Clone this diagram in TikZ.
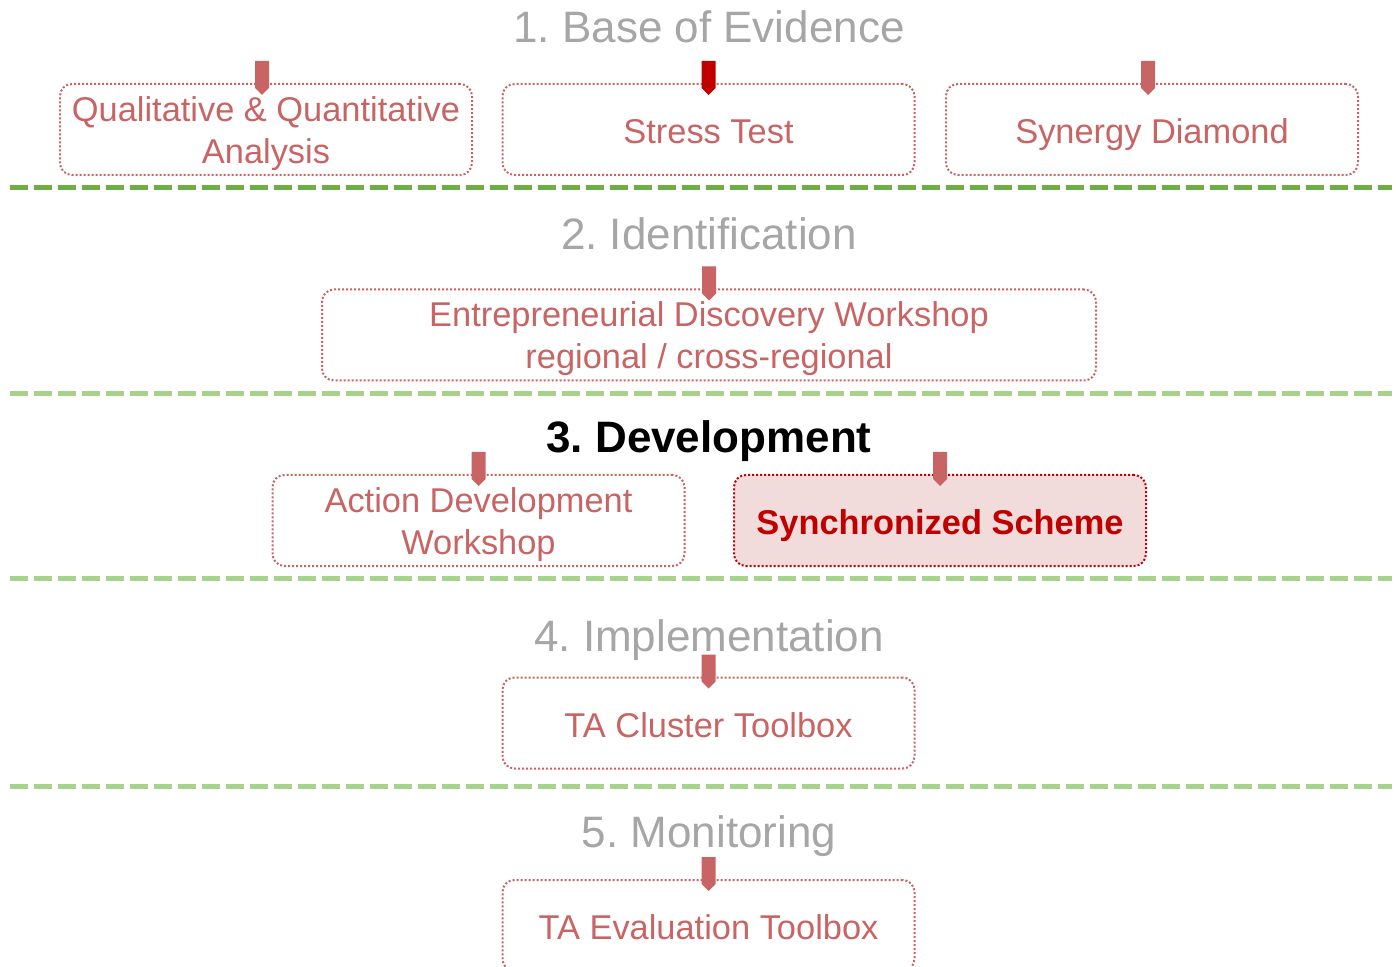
\documentclass[tikz,border=0pt]{standalone}
\usepackage{fontspec}
\setmainfont{Liberation Sans}
\usetikzlibrary{positioning}
\definecolor{red1}{HTML}{C00000}
\definecolor{red4}{HTML}{C86464}
\definecolor{red9}{HTML}{F2DCDB}
\definecolor{green3}{HTML}{70AD47}
\definecolor{green6}{HTML}{A9D18E}
\definecolor{gray6}{HTML}{A6A6A6}
\frenchspacing

\tikzset{
  stage/.style={anchor=base, text=gray6, font=\fontsize{22}{26}\selectfont},
  toolbox/.style={draw=red4, text=red4, line width=1pt, dash pattern=on 1pt off 1pt,
    rounded corners=6pt, minimum width=206pt, minimum height=45.5pt, inner sep=0pt,
    align=center, font=\fontsize{17.2}{21}\selectfont, text height=16pt, text depth=2pt},
  twolines/.style={text height=34pt, text depth=0pt},
  phasesep/.style={line width=2.5pt, dash pattern=on 9pt off 3pt},
  pics/inmark/.style={code={\fill[#1] (-7,-22) -- (7,-22) -- (7,5) -- (0,12) -- (-7,5) -- cycle;}},
}

\begin{document}
\begin{tikzpicture}[x=0.5pt, y=-0.5pt]
\path[use as bounding box, clip] (0,0) rectangle (1396,967);

% 1. base of evidence
\node[stage] (s1) at (709,43) {1. Base of Evidence};
\node[toolbox, twolines] (qa) at (266,129.5) {Qualitative \& Quantitative\\Analysis};
\node[toolbox] (st) at (708.5,129.5) {Stress Test};
\node[toolbox] (sd) at (1152,129.5) {Synergy Diamond};
\pic at ([xshift=-2pt]qa.north) {inmark=red4};
\pic at (st.north) {inmark=red1};
\pic at ([xshift=-2pt]sd.north) {inmark=red4};
\draw[phasesep, green3] (10,188) -- (1392,188);

% 2. identification
\node[stage] (s2) at (709,250) {2. Identification};
\node[toolbox, twolines, minimum width=387pt] (edw) at (709,335) {Entrepreneurial Discovery Workshop\\regional / cross-regional};
\pic at (edw.north) {inmark=red4};
\draw[phasesep, green6] (10,394) -- (1392,394);

% 3. development
\node[stage, text=black, font=\fontsize{22}{26}\selectfont\bfseries] (s3) at (709,453) {3. Development};
\node[toolbox, twolines] (adw) at (478.5,520.5) {Action Development\\Workshop};
\node[toolbox, draw=red1, fill=red9, text=red1, font=\fontsize{17.2}{21}\selectfont\bfseries] (ss) at (940,520.5) {Synchronized Scheme};
\pic at (adw.north) {inmark=red4};
\pic at (ss.north) {inmark=red4};
\draw[phasesep, green6] (10,578) -- (1392,578);

% 4. implementation
\node[stage] (s4) at (709,651) {4. Implementation};
\node[toolbox] (ctb) at (708.5,723) {TA Cluster Toolbox};
\pic at (ctb.north) {inmark=red4};
\draw[phasesep, green6] (10,786) -- (1392,786);

% 5. monitoring
\node[stage] (s5) at (709,847) {5. Monitoring};
\node[toolbox] (etb) at (708.5,925.5) {TA Evaluation Toolbox};
\pic at (etb.north) {inmark=red4};
\end{tikzpicture}
\end{document}
